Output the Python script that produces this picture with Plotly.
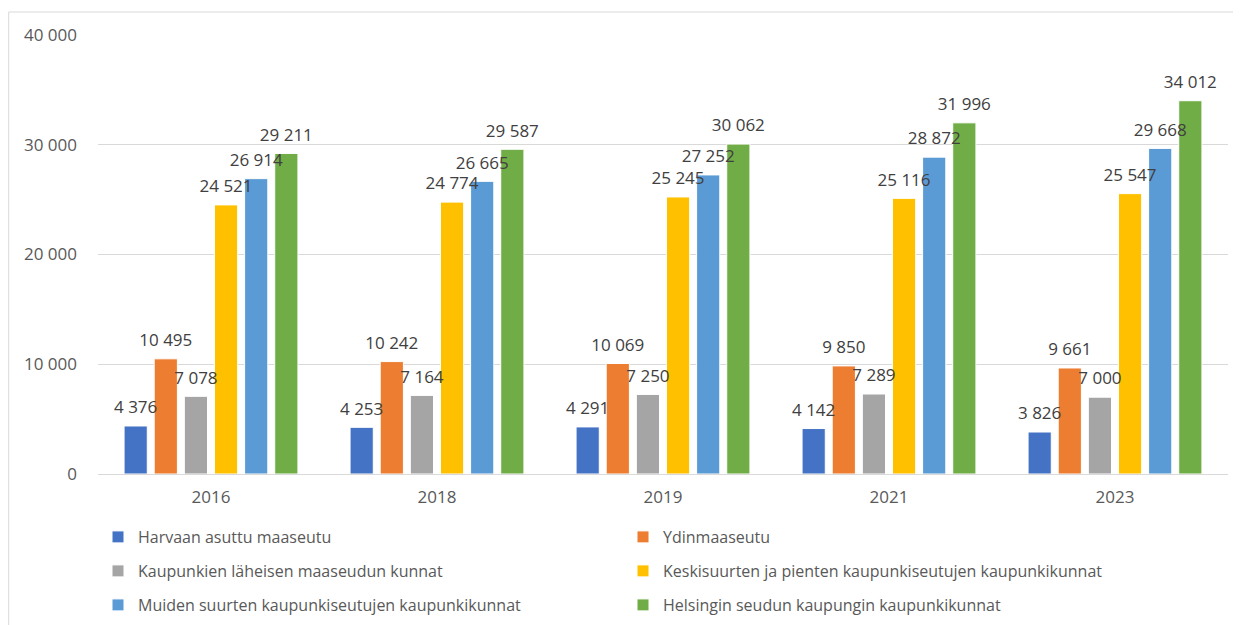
import plotly.graph_objects as go

years = ["2016", "2018", "2019", "2021", "2023"]
series_names = [
    "Harvaan asuttu maaseutu",
    "Ydinmaaseutu",
    "Kaupunkien läheisen maaseudun kunnat",
    "Keskisuurten ja pienten kaupunkiseutujen kaupunkikunnat",
    "Muiden suurten kaupunkiseutujen kaupunkikunnat",
    "Helsingin seudun kaupungin kaupunkikunnat",
]
harvaan = [4376, 4253, 4291, 4142, 3826]
ydin = [10495, 10242, 10069, 9850, 9661]
laheinen = [7078, 7164, 7250, 7289, 7000]
keskisuuret = [24521, 24774, 25245, 25116, 25547]
muut_suuret = [26914, 26665, 27252, 28872, 29668]
helsinki = [29211, 29587, 30062, 31996, 34012]
series_values = [harvaan, ydin, laheinen, keskisuuret, muut_suuret, helsinki]
colors = ["#4472C4", "#ED7D31", "#A5A5A5", "#FFC000", "#5B9BD5", "#70AD47"]
y_ticks = [0, 10000, 20000, 30000, 40000]
y_tick_labels = ["0", "10 000", "20 000", "30 000", "40 000"]

FONT = "Open Sans"
W, H = 1233, 617

def fmt(v):
    return f"{v:,}".replace(",", " ")

fig = go.Figure()
legends = ["legend", "legend", "legend2", "legend2", "legend3", "legend3"]
for i, (name, vals, col) in enumerate(zip(series_names, series_values, colors)):
    fig.add_trace(go.Bar(
        x=years, y=vals, name=name,
        marker=dict(color=col, line=dict(color="white", width=1)),
        offsetgroup=str(i), alignmentgroup="a",
        legend=legends[i],
    ))
for i, (name, vals) in enumerate(zip(series_names, series_values)):
    fig.add_trace(go.Scatter(
        x=years, y=vals, mode="markers+text",
        text=[fmt(v) for v in vals], textposition="top center",
        textfont=dict(family=FONT, size=17, color="#404040"),
        marker=dict(size=12, opacity=0),
        offsetgroup=str(i), alignmentgroup="a",
        showlegend=False, hoverinfo="skip", cliponaxis=False,
    ))

leg_common = dict(orientation="h", entrywidth=480, entrywidthmode="pixels",
                  font=dict(family=FONT, size=16, color="#595959"),
                  x=0, xanchor="left", yanchor="middle", yref="container",
                  itemwidth=30, bgcolor="rgba(0,0,0,0)")

fig.update_layout(
    width=W, height=H,
    margin=dict(l=90, r=13, t=27, b=151, autoexpand=False),
    paper_bgcolor="white", plot_bgcolor="white",
    barmode="group", bargap=0.2, bargroupgap=0.23,
    scattermode="group", scattergap=0.2,
    font=dict(family=FONT, color="#595959"),
    xaxis=dict(showgrid=False, showline=True, linecolor="#D9D9D9", linewidth=1,
               tickfont=dict(family=FONT, size=17, color="#595959"), ticks="",
               ticklabelstandoff=8),
    yaxis=dict(range=[0, 40000], tickvals=y_ticks, ticktext=y_tick_labels,
               showgrid=True, gridcolor="#D9D9D9", gridwidth=1, zeroline=False,
               showline=False, tickfont=dict(family=FONT, size=17, color="#595959"),
               ticklabelstandoff=20),
    legend=dict(**leg_common, y=1 - 529 / H),
    legend2=dict(**leg_common, y=1 - 563 / H),
    legend3=dict(**leg_common, y=1 - 597 / H),
    shapes=[dict(type="rect", xref="paper", yref="paper",
                 x0=-0.079, x1=1.03, y0=-0.5, y1=1.0524,
                 line=dict(color="#D9D9D9", width=1), fillcolor="rgba(0,0,0,0)",
                 layer="below")],
)
fig.write_html("out.html")
